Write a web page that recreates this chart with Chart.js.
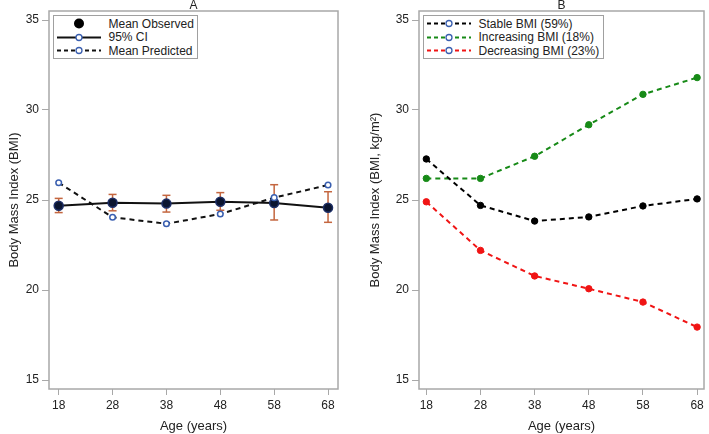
<!DOCTYPE html>
<html>
<head>
<meta charset="utf-8">
<script src="https://cdn.jsdelivr.net/npm/chart.js@4.4.1/dist/chart.umd.min.js"></script>
<style>
body { margin: 0; background: #fff; font-family: "Liberation Sans", Arial, sans-serif; }
#wrap { position: relative; width: 709px; height: 434px; overflow: hidden; }
canvas { position: absolute; top: 0; }
.legend { position: absolute; box-sizing: border-box; border: 1px solid #a0a0a0; background: #fff;
  font-size: 12px; color: #222; padding: 1px 0 0 3px; }
.legend div { height: 13.6px; display: flex; align-items: center; white-space: nowrap; }
.legend svg { flex: none; margin-right: 7.5px; }
</style>
</head>
<body>
<div id="wrap">
  <canvas id="chartA" width="360" height="434" style="left:0"></canvas>
  <canvas id="chartB" width="349" height="434" style="left:360px"></canvas>
  <div class="legend" id="legA" style="left:53px;top:15px;width:145px;height:44px;"></div>
  <div class="legend" id="legB" style="left:423px;top:15px;width:181px;height:44px;"></div>
</div>
<script>
// data
var ages = [18, 28, 38, 48, 58, 68];
var yTicks = [15, 20, 25, 30, 35];

var meanObserved  = [24.68, 24.85, 24.80, 24.90, 24.83, 24.57];
var ciLow         = [24.30, 24.40, 24.33, 24.43, 23.89, 23.76];
var ciHigh        = [25.09, 25.31, 25.26, 25.41, 25.85, 25.46];
var meanPredicted = [25.96, 24.04, 23.68, 24.22, 25.13, 25.83];

var stableBMI     = [27.28, 24.70, 23.83, 24.06, 24.67, 25.06];
var increasingBMI = [26.20, 26.20, 27.43, 29.18, 30.87, 31.80];
var decreasingBMI = [24.90, 22.20, 20.78, 20.07, 19.33, 17.94];

var FONT = '"Liberation Sans", Arial, sans-serif';
var TXT = '#222';
var FRAME = '#a8a8a8';
var OPEN_BLUE = '#3a5fb0';

Chart.defaults.font.family = FONT;
Chart.defaults.color = TXT;

function pts(vals) {
  return ages.map(function (a, i) { return { x: a, y: vals[i] }; });
}

// frame round the plot area + panel letter
var framePlugin = {
  id: 'frame',
  beforeDatasetsDraw: function (chart, args, opts) {
    var a = chart.chartArea, c = chart.ctx;
    c.save();
    c.strokeStyle = FRAME;
    c.lineWidth = 1.5;
    c.strokeRect(a.left, a.top, a.right - a.left, a.bottom - a.top);
    c.fillStyle = TXT;
    c.font = '12px ' + FONT;
    c.textAlign = 'center';
    c.fillText(opts.text, (a.left + a.right) / 2, 9);
    c.restore();
  }
};

function makeScales(xMin, xMax, yWidth, yTitle, yPad) {
  return {
    x: {
      type: 'linear', min: xMin, max: xMax,
      afterBuildTicks: function (s) { s.ticks = ages.map(function (v) { return { value: v }; }); },
      afterFit: function (s) { s.height = 45; },
      grid: { drawOnChartArea: false, tickLength: 6, color: FRAME, lineWidth: 1 },
      border: { display: false },
      ticks: { color: TXT, font: { size: 12 }, padding: 3, maxRotation: 0, autoSkip: false },
      title: { display: true, text: 'Age (years)', color: TXT, font: { size: 13 }, padding: { top: 0, bottom: 0 } }
    },
    y: {
      type: 'linear', min: 14.5, max: 35.5,
      afterBuildTicks: function (s) { s.ticks = yTicks.map(function (v) { return { value: v }; }); },
      afterFit: function (s) { s.width = yWidth; },
      grid: { drawOnChartArea: false, tickLength: 7, color: FRAME, lineWidth: 1 },
      border: { display: false },
      ticks: { color: TXT, font: { size: 12 }, padding: 3, autoSkip: false },
      title: { display: true, text: yTitle, color: TXT, font: { size: 13 }, padding: { top: yPad, bottom: 0 } }
    }
  };
}

var common = {
  responsive: false,
  animation: false,
  events: [],
  plugins: { legend: { display: false }, tooltip: { enabled: false } }
};

// ---- panel A ----
var ciPoints = [];
ages.forEach(function (a, i) {
  ciPoints.push({ x: a, y: ciLow[i] }, { x: a, y: ciHigh[i] }, { x: a, y: null });
});

new Chart(document.getElementById('chartA'), {
  type: 'line',
  data: {
    datasets: [
      {
        label: 'Mean Predicted', data: pts(meanPredicted),
        borderColor: '#111', borderWidth: 2, borderDash: [5, 4],
        pointRadius: 2.8, pointBackgroundColor: '#fff', pointBorderColor: OPEN_BLUE, pointBorderWidth: 1.5
      },
      {
        label: 'Mean Observed', data: pts(meanObserved),
        borderColor: '#111', borderWidth: 2,
        pointRadius: 4.5, pointBackgroundColor: '#0b1530', pointBorderColor: '#1d2e66', pointBorderWidth: 1.5
      },
      {
        label: '95% CI', data: ciPoints, spanGaps: false,
        borderColor: '#c4663f', borderWidth: 1.5,
        pointStyle: 'line', pointRadius: 4, pointBorderColor: '#c4663f', pointBorderWidth: 1.5
      }
    ]
  },
  options: Object.assign({}, common, {
    layout: { padding: { left: 0, top: 11, right: 22, bottom: 0 } },
    scales: makeScales(16.2, 69.85, 49, 'Body Mass Index (BMI)', 7),
    plugins: { legend: { display: false }, tooltip: { enabled: false }, frame: { text: 'A' } }
  }),
  plugins: [framePlugin]
});

// ---- panel B ----
var groupNames = ['Stable BMI (59%)', 'Increasing BMI (18%)', 'Decreasing BMI (23%)'];
var groupColors = ['#000000', '#178a17', '#f01414'];
var groupValues = [stableBMI, increasingBMI, decreasingBMI];

new Chart(document.getElementById('chartB'), {
  type: 'line',
  data: {
    datasets: groupValues.map(function (v, i) {
      return {
        label: groupNames[i], data: pts(v),
        borderColor: groupColors[i], borderWidth: 2, borderDash: [5, 4],
        pointRadius: 3.2, pointBackgroundColor: groupColors[i], pointBorderColor: groupColors[i], pointBorderWidth: 1
      };
    })
  },
  options: Object.assign({}, common, {
    layout: { padding: { left: 0, top: 11, right: 1, bottom: 0 } },
    scales: makeScales(16.65, 69.27, 59, 'Body Mass Index (BMI, kg/m\u00b2)', 8),
    plugins: { legend: { display: false }, tooltip: { enabled: false }, frame: { text: 'B' } }
  }),
  plugins: [framePlugin]
});

// ---- legends (html) ----
function sym(lineColor, dashed, marker) {
  var s = '<svg width="44" height="13" viewBox="0 0 44 13">';
  if (lineColor) {
    s += '<line x1="0" y1="6.5" x2="44" y2="6.5" stroke="' + lineColor + '" stroke-width="2"' +
      (dashed ? ' stroke-dasharray="4 3"' : '') + '/>';
  }
  if (marker === 'open') {
    s += '<circle cx="22" cy="6.5" r="3" fill="#fff" stroke="' + OPEN_BLUE + '" stroke-width="1.3"/>';
  } else if (marker === 'big') {
    s += '<circle cx="22" cy="6.5" r="5" fill="#000"/>';
  }
  return s + '</svg>';
}
function row(svg, text) { return '<div>' + svg + '<span>' + text + '</span></div>'; }

document.getElementById('legA').innerHTML =
  row(sym(null, false, 'big'), 'Mean Observed') +
  row(sym('#111', false, 'open'), '95% CI') +
  row(sym('#111', true, 'open'), 'Mean Predicted');

document.getElementById('legB').innerHTML = groupNames.map(function (n, i) {
  return row(sym(groupColors[i], true, 'open'), n);
}).join('');
</script>
</body>
</html>
